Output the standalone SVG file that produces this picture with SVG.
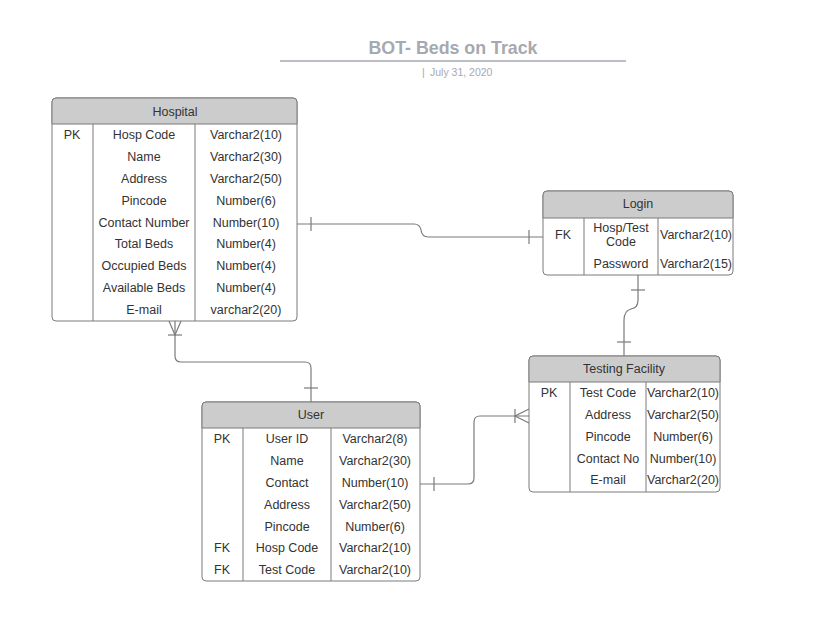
<svg xmlns="http://www.w3.org/2000/svg" width="814" height="640" viewBox="0 0 814 640">
<style>
.box{fill:#ffffff;stroke:#7b7b7b;stroke-width:1}
.hdr{fill:#cccccc;stroke:#7b7b7b;stroke-width:1}
.ln{stroke:#7b7b7b;stroke-width:1;fill:none}
.t{font-family:"Liberation Sans",Arial,sans-serif;font-size:12.5px;fill:#333333;text-anchor:middle;dominant-baseline:central;transform:translateY(1px)}
.c{stroke:#7b7b7b;stroke-width:1.2;fill:none}
</style>
<rect width="814" height="640" fill="#ffffff"/>
<g id="title">
<text x="453" y="48" font-family="Liberation Sans,Arial,sans-serif" font-size="17.8" font-weight="bold" fill="#a5a9b0" text-anchor="middle" dominant-baseline="central">BOT- Beds on Track</text>
<line x1="280" y1="61" x2="626" y2="61" stroke="#a5a9b0" stroke-width="1.3"/>
<text x="422" y="72" font-family="Liberation Sans,Arial,sans-serif" font-size="10.5" fill="#a5a9b0" dominant-baseline="central">|</text>
<text x="430" y="72" font-family="Liberation Sans,Arial,sans-serif" font-size="10.5" fill="#a5a9b0" dominant-baseline="central">July 31, 2020</text>
</g>
<g id="connectors">
<path class="c" d="M297,224 H414 Q420,224 421,230 Q422,237 428,237 H543"/>
<line class="c" x1="311" y1="217" x2="311" y2="231"/>
<line class="c" x1="529" y1="230" x2="529" y2="244"/>
<path class="c" d="M175,321 V356 Q175,362 181,362 H305 Q311,362 311,368 V402"/>
<path class="c" d="M169,321 L175,335 L181,321"/>
<line class="c" x1="168" y1="335" x2="182" y2="335"/>
<line class="c" x1="304" y1="388" x2="318" y2="388"/>
<path class="c" d="M420,484 H468 Q474,484 474,478 V422 Q474,416 480,416 H529"/>
<line class="c" x1="434" y1="477" x2="434" y2="491"/>
<path class="c" d="M529,409 L515,416 L529,423"/>
<line class="c" x1="515" y1="409" x2="515" y2="423"/>
<path class="c" d="M638,275 V300 Q638,308 631,309 Q624,311 624,320 V356"/>
<line class="c" x1="631" y1="290" x2="645" y2="290"/>
<line class="c" x1="617" y1="342" x2="631" y2="342"/>
</g>
<g id="hospital">
<rect class="box" x="52" y="98" width="245" height="223" rx="4"/>
<path class="hdr" d="M52,124 V102 Q52,98 56,98 H293 Q297,98 297,102 V124 Z"/>
<line class="ln" x1="93" y1="124" x2="93" y2="321"/>
<line class="ln" x1="195" y1="124" x2="195" y2="321"/>
<text class="t" x="175" y="111">Hospital</text>
<text class="t" x="72" y="134">PK</text>
<text class="t" x="144" y="134">Hosp Code</text><text class="t" x="246" y="134">Varchar2(10)</text>
<text class="t" x="144" y="156">Name</text><text class="t" x="246" y="156">Varchar2(30)</text>
<text class="t" x="144" y="178">Address</text><text class="t" x="246" y="178">Varchar2(50)</text>
<text class="t" x="144" y="200">Pincode</text><text class="t" x="246" y="200">Number(6)</text>
<text class="t" x="144" y="222">Contact Number</text><text class="t" x="246" y="222">Number(10)</text>
<text class="t" x="144" y="243">Total Beds</text><text class="t" x="246" y="243">Number(4)</text>
<text class="t" x="144" y="265">Occupied Beds</text><text class="t" x="246" y="265">Number(4)</text>
<text class="t" x="144" y="287">Available Beds</text><text class="t" x="246" y="287">Number(4)</text>
<text class="t" x="144" y="309">E-mail</text><text class="t" x="246" y="309">varchar2(20)</text>
</g>
<g id="login">
<rect class="box" x="543" y="191" width="190" height="84" rx="4"/>
<path class="hdr" d="M543,218 V195 Q543,191 547,191 H729 Q733,191 733,195 V218 Z"/>
<line class="ln" x1="584" y1="218" x2="584" y2="275"/>
<line class="ln" x1="658" y1="218" x2="658" y2="275"/>
<text class="t" x="638" y="203">Login</text>
<text class="t" x="563" y="234">FK</text>
<text class="t" x="621" y="227">Hosp/Test</text>
<text class="t" x="621" y="241">Code</text>
<text class="t" x="696" y="234">Varchar2(10)</text>
<text class="t" x="621" y="263">Password</text><text class="t" x="696" y="263">Varchar2(15)</text>
</g>
<g id="testing-facility">
<rect class="box" x="529" y="356" width="191" height="136" rx="4"/>
<path class="hdr" d="M529,382 V360 Q529,356 533,356 H716 Q720,356 720,360 V382 Z"/>
<line class="ln" x1="570" y1="382" x2="570" y2="492"/>
<line class="ln" x1="646" y1="382" x2="646" y2="492"/>
<text class="t" x="624" y="368">Testing Facility</text>
<text class="t" x="549" y="392">PK</text>
<text class="t" x="608" y="392">Test Code</text><text class="t" x="683" y="392">Varchar2(10)</text>
<text class="t" x="608" y="414">Address</text><text class="t" x="683" y="414">Varchar2(50)</text>
<text class="t" x="608" y="436">Pincode</text><text class="t" x="683" y="436">Number(6)</text>
<text class="t" x="608" y="458">Contact No</text><text class="t" x="683" y="458">Number(10)</text>
<text class="t" x="608" y="479">E-mail</text><text class="t" x="683" y="479">Varchar2(20)</text>
</g>
<g id="user">
<rect class="box" x="202" y="402" width="218" height="179" rx="4"/>
<path class="hdr" d="M202,428 V406 Q202,402 206,402 H416 Q420,402 420,406 V428 Z"/>
<line class="ln" x1="243" y1="428" x2="243" y2="581"/>
<line class="ln" x1="331" y1="428" x2="331" y2="581"/>
<text class="t" x="311" y="414">User</text>
<text class="t" x="222" y="438">PK</text>
<text class="t" x="287" y="438">User ID</text><text class="t" x="375" y="438">Varchar2(8)</text>
<text class="t" x="287" y="460">Name</text><text class="t" x="375" y="460">Varchar2(30)</text>
<text class="t" x="287" y="482">Contact</text><text class="t" x="375" y="482">Number(10)</text>
<text class="t" x="287" y="504">Address</text><text class="t" x="375" y="504">Varchar2(50)</text>
<text class="t" x="287" y="526">Pincode</text><text class="t" x="375" y="526">Number(6)</text>
<text class="t" x="222" y="547">FK</text>
<text class="t" x="287" y="547">Hosp Code</text><text class="t" x="375" y="547">Varchar2(10)</text>
<text class="t" x="222" y="569">FK</text>
<text class="t" x="287" y="569">Test Code</text><text class="t" x="375" y="569">Varchar2(10)</text>
</g>
</svg>
